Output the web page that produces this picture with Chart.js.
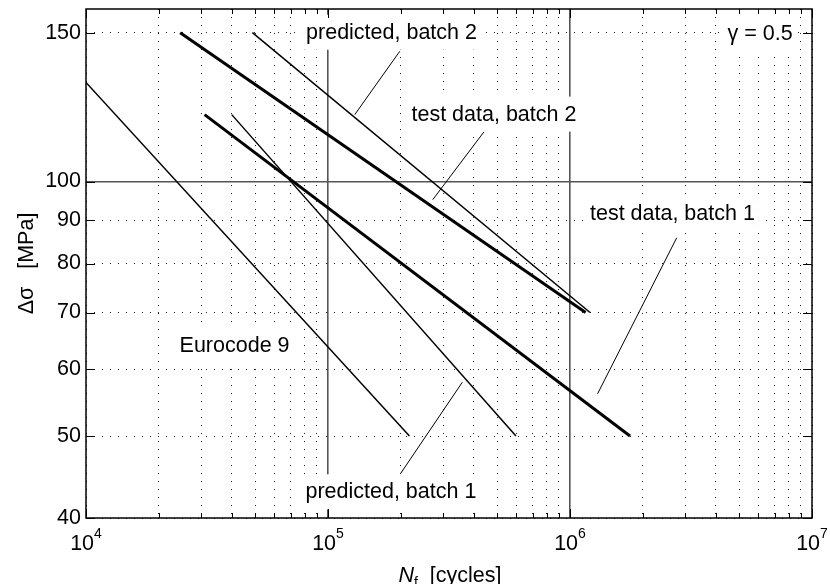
<!DOCTYPE html>
<html>
<head>
<meta charset="utf-8">
<script src="https://cdn.jsdelivr.net/npm/chart.js@4.4.0/dist/chart.umd.min.js"></script>
<style>
html, body { margin: 0; padding: 0; background: #fff; }
</style>
</head>
<body>
<canvas id="snChart" width="830" height="584"></canvas>
<script>
// S-N lines, end points (N in cycles, stress range in MPa)
let eurocodeN = [1e4, 2.17e5]
let eurocodeS = [131, 50]
let testB2N = [2.45e4, 1.16e6]
let testB2S = [150, 70]
let predB2N = [4.87e4, 1.21e6]
let predB2S = [150, 70]
let testB1N = [3.09e4, 1.77e6]
let testB1S = [120, 50]
let predB1N = [4.0e4, 5.98e5]
let predB1S = [120, 50]

// axis ticks
let yTicks = [40, 50, 60, 70, 80, 90, 100, 150]
let xDecades = [4, 5, 6, 7]
let majorX = [1e5, 1e6]
let majorY = [100]

// text labels and their pointer lines
let labelText = ['predicted, batch 2', 'test data, batch 2', 'test data, batch 1', 'predicted, batch 1', 'Eurocode 9', 'γ = 0.5']
let labelN = [1.83e5, 4.85e5, 2.65e6, 1.82e5, 4.11e4, 6.1e6]
let labelS = [150, 120, 91.6, 42.9, 63.9, 149.5]
let leaderN = [[1.98e5, 1.29e5], [4.41e5, 2.71e5], [2.76e6, 1.30e6], [2.0e5, 3.59e5]]
let leaderS = [[142.6, 120.0], [114.5, 95.2], [85.8, 56.1], [45.2, 57.9]]

const FONT = "'Liberation Sans', Arial, Helvetica, sans-serif"
const FS = 21.5

let xTicks = []
xDecades.forEach(function (k) {
    for (let m = 1; m <= 9; m++) {
        if (k === 7 && m > 1) break
        xTicks.push(m * Math.pow(10, k))
    }
})

function toPts(xs, ys) {
    return xs.map(function (x, i) { return {x: x, y: ys[i]} })
}

function lineSet(xs, ys, w) {
    return {
        data: toPts(xs, ys),
        borderColor: '#000',
        borderWidth: w,
        pointRadius: 0,
        fill: false,
        tension: 0
    }
}

let datasets = [
    lineSet(eurocodeN, eurocodeS, 1.5),
    lineSet(testB2N, testB2S, 3),
    lineSet(predB2N, predB2S, 1.5),
    lineSet(testB1N, testB1S, 3),
    lineSet(predB1N, predB1S, 1.5)
]
for (let i = 0; i < leaderN.length; i++) {
    datasets.push(lineSet(leaderN[i], leaderS[i], 1))
}

function isMajor(c, list) {
    return c.tick !== undefined && list.includes(c.tick.value)
}

// labels with white boxes, drawn over the grid but under the lines
let labelBoxes = {
    id: 'labelBoxes',
    beforeDatasetsDraw(chart) {
        let ctx = chart.ctx
        let x = chart.scales.x, y = chart.scales.y
        ctx.save()
        ctx.font = FS + 'px ' + FONT
        ctx.textAlign = 'center'
        ctx.textBaseline = 'middle'
        for (let i = 0; i < labelText.length; i++) {
            let px = x.getPixelForValue(labelN[i])
            let py = y.getPixelForValue(labelS[i])
            let w = ctx.measureText(labelText[i]).width
            ctx.fillStyle = '#fff'
            ctx.fillRect(px - w / 2 - 4, py - 18, w + 8, 35)
            ctx.fillStyle = '#000'
            ctx.fillText(labelText[i], px, py)
        }
        ctx.restore()
    }
}

// box around the axes with inward tick marks, tick labels for x, axis titles
let frame = {
    id: 'frame',
    afterDraw(chart) {
        let ctx = chart.ctx
        let a = chart.chartArea
        let x = chart.scales.x, y = chart.scales.y
        ctx.save()
        ctx.strokeStyle = '#000'
        ctx.lineWidth = 1
        ctx.beginPath()
        xTicks.forEach(function (v) {
            let px = Math.round(x.getPixelForValue(v)) + 0.5
            let len = Number.isInteger(Math.log10(v)) ? 9 : 5
            ctx.moveTo(px, a.bottom); ctx.lineTo(px, a.bottom - len)
            ctx.moveTo(px, a.top); ctx.lineTo(px, a.top + len)
        })
        yTicks.forEach(function (v) {
            let py = Math.round(y.getPixelForValue(v)) + 0.5
            ctx.moveTo(a.left, py); ctx.lineTo(a.left + 9, py)
            ctx.moveTo(a.right, py); ctx.lineTo(a.right - 9, py)
        })
        ctx.stroke()
        ctx.lineWidth = 1.5
        ctx.strokeRect(Math.round(a.left), Math.round(a.top), Math.round(a.right - a.left), Math.round(a.bottom - a.top))

        // x tick labels 10^k
        ctx.fillStyle = '#000'
        ctx.textBaseline = 'alphabetic'
        ctx.textAlign = 'left'
        xDecades.forEach(function (k) {
            let px = x.getPixelForValue(Math.pow(10, k))
            ctx.font = FS + 'px ' + FONT
            let wb = ctx.measureText('10').width
            ctx.font = '14px ' + FONT
            let we = ctx.measureText(String(k)).width
            let x0 = px - (wb + we) / 2
            ctx.font = FS + 'px ' + FONT
            ctx.fillText('10', x0, 550)
            ctx.font = '14px ' + FONT
            ctx.fillText(String(k), x0 + wb, 538)
        })

        // x title: N_f  [cycles]
        ctx.font = 'italic ' + FS + 'px ' + FONT
        let wN = ctx.measureText('N').width
        ctx.font = '14px ' + FONT
        let wf = ctx.measureText('f').width
        ctx.font = FS + 'px ' + FONT
        let wr = ctx.measureText('  [cycles]').width
        let cx = (a.left + a.right) / 2
        let tx = cx - (wN + wf + wr) / 2 + 1
        ctx.font = 'italic ' + FS + 'px ' + FONT
        ctx.fillText('N', tx, 582)
        ctx.font = '14px ' + FONT
        ctx.fillText('f', tx + wN, 587)
        ctx.font = FS + 'px ' + FONT
        ctx.fillText('  [cycles]', tx + wN + wf, 582)

        // y title
        ctx.translate(33, (a.top + a.bottom) / 2)
        ctx.rotate(-Math.PI / 2)
        ctx.textAlign = 'center'
        ctx.fillText('Δσ   [MPa]', 0, 0)
        ctx.restore()
    }
}

let ctx = document.getElementById('snChart').getContext('2d')
let chart = new Chart(ctx, {
    type: 'line',
    data: { datasets: datasets },
    options: {
        responsive: false,
        animation: false,
        events: [],
        layout: { padding: { top: 9, right: 18, left: 0, bottom: 0 } },
        plugins: {
            legend: { display: false },
            tooltip: { enabled: false }
        },
        scales: {
            x: {
                type: 'logarithmic',
                min: 1e4,
                max: 1e7,
                afterBuildTicks: function (scale) {
                    scale.ticks = xTicks.map(function (v) { return {value: v} })
                },
                afterFit: function (scale) {
                    scale.height = 66
                    scale.paddingLeft = 0
                    scale.paddingRight = 0
                },
                ticks: { display: false },
                grid: {
                    drawTicks: false,
                    color: function (c) { return isMajor(c, majorX) ? '#555' : '#222' },
                    lineWidth: function (c) { return isMajor(c, majorX) ? 1.6 : 1 }
                },
                border: {
                    display: false,
                    dash: function (c) { return isMajor(c, majorX) ? [] : [1, 7] }
                }
            },
            y: {
                type: 'logarithmic',
                min: 40,
                max: 160,
                afterBuildTicks: function (scale) {
                    scale.ticks = yTicks.map(function (v) { return {value: v} })
                },
                afterFit: function (scale) {
                    scale.width = 86
                    scale.paddingTop = 0
                    scale.paddingBottom = 0
                },
                ticks: {
                    autoSkip: false,
                    padding: 5,
                    color: '#000',
                    font: { family: FONT, size: FS },
                    callback: function (v) { return String(v) }
                },
                grid: {
                    drawTicks: false,
                    color: function (c) { return isMajor(c, majorY) ? '#555' : '#222' },
                    lineWidth: function (c) { return isMajor(c, majorY) ? 1.6 : 1 }
                },
                border: {
                    display: false,
                    dash: function (c) { return isMajor(c, majorY) ? [] : [1, 7] }
                }
            }
        }
    },
    plugins: [labelBoxes, frame]
})
</script>
</body>
</html>
